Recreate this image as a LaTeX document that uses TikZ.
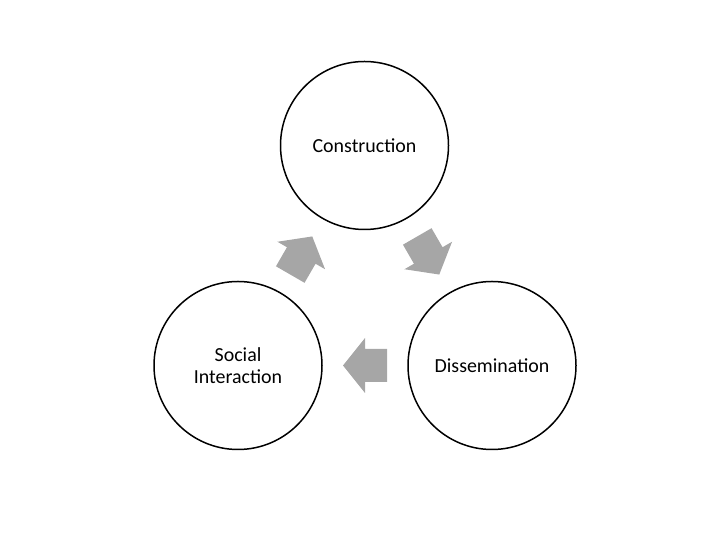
\documentclass[tikz,border=0pt]{standalone}
\usepackage{fontspec}
\setmainfont{Carlito}
\usetikzlibrary{calc}

\begin{document}
\begin{tikzpicture}[
  x=1bp, y=1bp,
  stage/.style={circle, draw, line width=1.5bp, minimum size=168bp, inner sep=0pt, align=center, font=\fontsize{20}{21.5}\selectfont},
  flow/.pic={\fill[black!35] (-22,-16.5) -- (0,-16.5) -- (0,-27.5) -- (22,0) -- (0,27.5) -- (0,16.5) -- (-22,16.5) -- cycle;}
]
\useasboundingbox (0,0) rectangle (720,540);

\node[stage] (cons) at (364.5,394.5) {Construction};
\node[stage] (diss) at (492,174.5) {Dissemination};
\node[stage] (soc) at (238,174.5) {Social\\Interaction};

% Arrows
\pic[rotate=-60] at ($(cons)!0.5!(diss)$) {flow};
\pic[rotate=180] at ($(diss)!0.5!(soc)$) {flow};
\pic[rotate=60] at ($(soc)!0.5!(cons)$) {flow};

\end{tikzpicture}
\end{document}
